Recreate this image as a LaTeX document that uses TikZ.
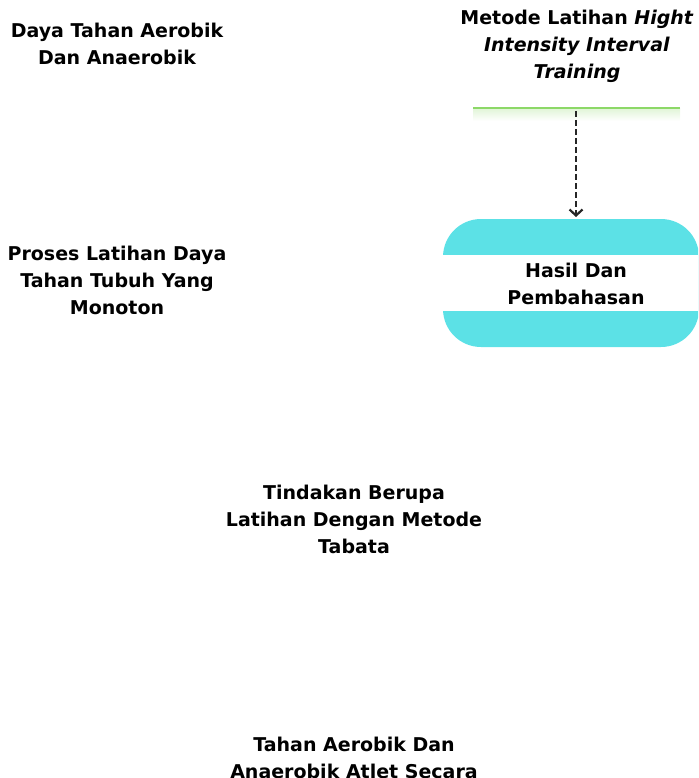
\documentclass[tikz,border=0pt]{standalone}
\usepackage{fontspec}
\setmainfont{DejaVu Sans}
\usetikzlibrary{arrows.meta}
\definecolor{cyanbox}{HTML}{5CE1E6}
\definecolor{greenline}{HTML}{8CD867}
\tikzset{
  label text/.style={font=\bfseries\fontsize{19}{27}\selectfont, align=center, inner sep=0pt, text=black},
  dasharrow/.style={draw=black!85, line width=2.4pt, dash pattern=on 6pt off 3pt, -{Straight Barb[length=6pt,width=13pt,line width=2.2pt]}}
}
\begin{document}
\begin{tikzpicture}[x=1pt,y=-1pt]
\useasboundingbox (0,0) rectangle (698,778);
\begin{scope}
\clip (0,0) rectangle (698,778);
% cyan rounded box
\node[fill=cyanbox, rounded corners=38pt, minimum width=256pt, minimum height=128pt, inner sep=0pt] (hasilbox) at (571,283) {};
% white band
\fill[white] (440,255) rectangle (698,311);
\end{scope}
% green line (bottom of box above)
\shade[top color=greenline!25, bottom color=white] (473,109) rectangle (680,121);
\draw[greenline, line width=2.2pt] (473,108) -- (680,108);
\coordinate (gbottom) at (576,111);
\coordinate (harrow) at (576,217);
\draw[dasharrow] (gbottom) -- (harrow);
% texts
\node[label text] (daya) at (117,43.5) {Daya Tahan Aerobik\\Dan Anaerobik};
\node[label text] (metode) at (577,46) {Metode Latihan \textit{Hight}\\\textit{Intensity Interval}\\\textit{Training}};
\node[label text] (hasil) at (576,283.5) {Hasil Dan\\Pembahasan};
\node[label text] (proses) at (117,280) {Proses Latihan Daya\\Tahan Tubuh Yang\\Monoton};
\node[label text] (tindakan) at (354,519.5) {Tindakan Berupa\\Latihan Dengan Metode\\Tabata};
\node[label text] (tahan) at (354,757.5) {Tahan Aerobik Dan\\Anaerobik Atlet Secara};
\end{tikzpicture}
\end{document}
